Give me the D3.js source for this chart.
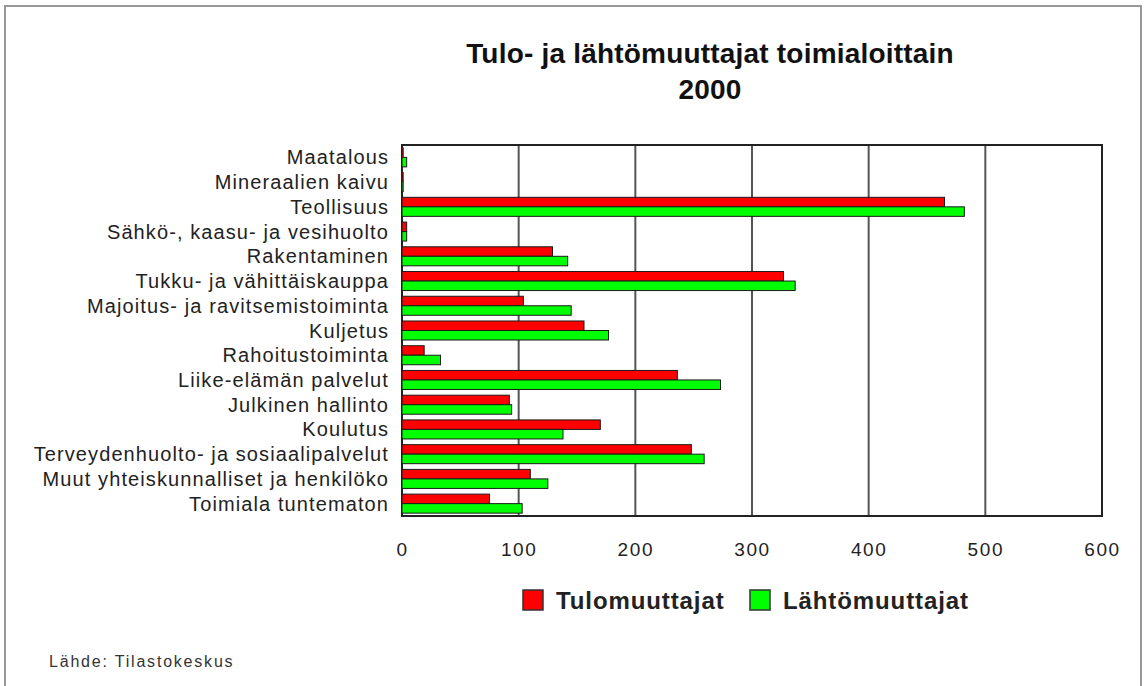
<!DOCTYPE html>
<html><head><meta charset="utf-8">
<script src="https://cdn.jsdelivr.net/npm/d3@7"></script>
<style>body{margin:0;background:#fff}svg{display:block}</style>
</head><body>
<script>
const categories = ["Maatalous","Mineraalien kaivu","Teollisuus","Sähkö-, kaasu- ja vesihuolto","Rakentaminen ","Tukku- ja vähittäiskauppa","Majoitus- ja ravitsemistoiminta","Kuljetus","Rahoitustoiminta","Liike-elämän palvelut","Julkinen hallinto","Koulutus","Terveydenhuolto- ja sosiaalipalvelut","Muut yhteiskunnalliset ja henkilöko","Toimiala tuntematon"];
const tulomuuttajat = [1,1,465,4,129,327,104,156,19,236,92,170,248,110,75];
const lahtomuuttajat = [4,1,482,4,142,337,145,177,33,273,94,138,259,125,103];
const seriesNames = ["Tulomuuttajat","Lähtömuuttajat"];
const seriesColors = ["#ff0000","#00ff00"];
const xTicks = [0,100,200,300,400,500,600];
const titleLines = ["Tulo- ja lähtömuuttajat toimialoittain","2000"];
const sourceText = "Lähde: Tilastokeskus";

const W=1147,H=686;
const svg=d3.select("body").append("svg").attr("width",W).attr("height",H);
const font="'Liberation Sans', Arial, sans-serif";

// outer frame
svg.append("rect").attr("x",5).attr("y",6).attr("width",1136).attr("height",H+10)
  .attr("fill","#fff").attr("stroke","#999").attr("stroke-width",2);

const L=402,R=1102,T=145,B=516;
const x=d3.scaleLinear().domain([0,600]).range([L,R]);
const y=d3.scaleBand().domain(categories).range([T,B]).padding(0);
const ys=d3.scaleBand().domain(seriesNames).range([0,y.bandwidth()]).paddingInner(0).paddingOuter(0.3);

// gridlines
svg.append("g").selectAll("line").data(xTicks.slice(1,-1)).join("line")
  .attr("x1",d=>x(d)).attr("x2",d=>x(d)).attr("y1",T).attr("y2",B)
  .attr("stroke","#555").attr("stroke-width",2);

// plot border
svg.append("rect").attr("x",L).attr("y",T).attr("width",R-L).attr("height",B-T)
  .attr("fill","none").attr("stroke","#222").attr("stroke-width",2);

const data = categories.map((c,i)=>({c,vals:[tulomuuttajat[i],lahtomuuttajat[i]]}));
const g=svg.append("g");
data.forEach(d=>{
  d.vals.forEach((v,j)=>{
    g.append("rect")
      .attr("x",x(0)).attr("y",y(d.c)+ys(seriesNames[j]))
      .attr("width",Math.max(0,x(v)-x(0))).attr("height",ys.bandwidth())
      .attr("fill",seriesColors[j]).attr("stroke","#1a1a1a").attr("stroke-width",1);
  });
});

// category labels
svg.append("g").selectAll("text").data(categories).join("text")
  .attr("x",389).attr("y",d=>y(d)+y.bandwidth()/2).attr("dy","0.35em")
  .attr("text-anchor","end").attr("font-family",font).attr("font-size",20)
  .attr("letter-spacing",1.1).attr("fill","#222").text(d=>d);

// x axis tick labels
const xAxis=d3.axisBottom(x).tickValues(xTicks).tickSize(0).tickPadding(0);
const ax=svg.append("g").attr("transform",`translate(0,${B})`).call(xAxis);
ax.select(".domain").remove();
ax.selectAll("text").attr("y",40).attr("dy",0).attr("font-family",font).attr("font-size",19)
  .attr("letter-spacing",1.6).attr("fill","#222");

// title
svg.append("g").selectAll("text").data(titleLines).join("text")
  .attr("x",710).attr("y",(d,i)=>63+i*36).attr("text-anchor","middle")
  .attr("font-family",font).attr("font-weight","bold").attr("font-size",28)
  .attr("letter-spacing",0.2).attr("fill","#111").text(d=>d);

// legend
const legX=[523,750];
const lg=svg.append("g");
seriesNames.forEach((s,i)=>{
  lg.append("rect").attr("x",legX[i]).attr("y",590).attr("width",20).attr("height",20)
    .attr("fill",seriesColors[i]).attr("stroke","#333").attr("stroke-width",1.5);
  lg.append("text").attr("x",legX[i]+33).attr("y",609).attr("font-family",font)
    .attr("font-weight","bold").attr("font-size",24).attr("letter-spacing",0.9)
    .attr("fill","#222").text(s);
});

// source
svg.append("text").attr("x",49).attr("y",667).attr("font-family",font).attr("font-size",16)
  .attr("letter-spacing",1.8).attr("fill","#333").text(sourceText);
</script>
</body></html>
